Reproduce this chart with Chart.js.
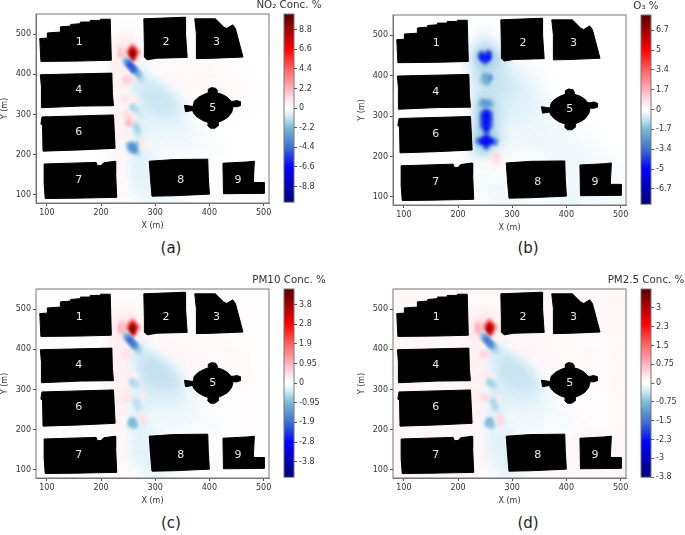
<!DOCTYPE html>
<html>
<head>
<meta charset="utf-8">
<title>Concentration change maps</title>
<script src="https://cdn.jsdelivr.net/npm/chart.js@4"></script>
<style>
  html, body { margin: 0; padding: 0; background: #fff; }
  #page { position: relative; width: 685px; height: 535px; overflow: hidden; }
  #page canvas { position: absolute; filter: blur(0.45px); }
  .caption { position: absolute; font: 15px "DejaVu Sans", sans-serif; color: #222; width: 60px; text-align: center; }
</style>
</head>
<body>
<div id="page"></div>
<script>
// axis ticks
const xTicks = [100, 200, 300, 400, 500];
const yTicks = [100, 200, 300, 400, 500];

// buildings, in metres
const buildingNames = ["1", "2", "3", "4", "5", "6", "7", "8", "9"];
const labelX = [160, 320, 413, 159, 406, 159, 159, 347, 453];
const labelY = [480, 480, 480, 360, 317, 256, 137, 137, 137];
const building1 = [[87,489],[101,490],[101,503],[125,505],[125,518],[144,520],[144,524],[162,526],[162,530],[180,530],[180,534],[199,534],[199,537],[217,537],[219,435],[159,433],[89,432]];
const building2 = [[279,538],[355,542],[356,501],[359,442],[303,440],[285,436],[281,442],[280,476]];
const building3 = [[373,538],[411,538],[426,518],[432,514],[443,523],[448,514],[462,443],[408,440],[377,439],[376,501]];
const building4 = [[88,399],[220,403],[221,352],[223,322],[162,321],[91,317],[90,369]];
const building5 = [[398,354],[398,363],[404,367],[412,365],[415,358],[414,354],[424,350],[433,343],[440,333],[445,333],[450,335],[457,332],[457,322],[450,319],[444,320],[441,305],[434,293],[424,285],[416,281],[416,272],[410,266],[402,266],[397,272],[398,280],[388,285],[378,293],[371,303],[369,310],[356,307],[354,323],[370,320],[372,333],[380,343],[390,350]];
const building6 = [[91,294],[223,299],[226,216],[162,212],[93,209],[92,274],[89,276]];
const building7 = [[95,177],[191,181],[193,173],[200,173],[205,180],[226,184],[227,154],[229,94],[152,92],[97,91],[95,129]];
const building8 = [[289,184],[334,188],[397,189],[398,145],[400,102],[334,98],[294,97],[291,145]];
const building9 = [[425,179],[469,182],[483,184],[481,131],[501,131],[501,104],[426,103]];
const buildings = [building1, building2, building3, building4, building5, building6, building7, building8, building9];

// coarse grid
const gridX = [230, 250, 270, 290, 310, 330, 350, 370, 390, 410, 430, 450, 470, 490];
const gridY = [520, 495, 470, 445, 420, 395, 370, 345, 320, 295, 270, 245, 220, 195, 170, 145, 120, 95];

const no2Grid = [
  [0, .1, 0, 0, 0, 0, 0, 0, 0, 0, 0, 0, 0, 0],
  [.2, .3, .1, 0, 0, 0, 0, 0, 0, 0, 0, 0, 0, 0],
  [.5, .8, .2, 0, 0, 0, 0, 0, 0, 0, 0, 0, 0, 0],
  [.6, .8, .4, .1, 0, 0, .1, .1, 0, 0, 0, 0, 0, 0],
  [.5, .4, -.3, .15, .2, .25, .25, .2, .2, .15, .1, .05, 0, 0],
  [.5, .3, -.8, -.2, .15, .3, .3, .3, .25, .2, .15, .1, .05, 0],
  [.5, .1, -.7, -.9, -.5, .05, .2, .3, .25, .25, .2, .15, .1, 0],
  [.5, .2, -.5, -1, -1, -.6, .05, .2, .2, .2, .2, .2, .1, 0],
  [.5, .2, -.5, -.8, -1, -.9, -.3, .1, .1, .1, .1, .15, .15, 0],
  [.5, .3, -.5, -.6, -.7, -.7, -.4, -.1, .05, .05, .05, .05, 0, 0],
  [.5, .3, -.7, -.5, -.5, -.5, -.4, -.15, -.05, 0, 0, 0, 0, 0],
  [.4, .2, -.5, -.3, -.3, -.3, -.3, -.2, -.1, -.05, 0, 0, 0, 0],
  [.3, -.3, -.4, -.25, -.2, -.2, -.2, -.2, -.15, -.1, -.05, 0, 0, 0],
  [.3, -.1, -.6, -.4, -.1, -.1, -.1, -.1, -.05, 0, 0, 0, 0, 0],
  [.3, 0, -.6, -.4, 0, 0, 0, 0, 0, 0, 0, 0, 0, 0],
  [.3, 0, -.6, -.5, 0, 0, 0, 0, 0, 0, 0, 0, 0, 0],
  [.3, .05, -.4, -.5, -.2, 0, 0, 0, 0, 0, 0, 0, 0, 0],
  [.2, .05, -.2, -.4, -.3, -.2, -.1, -.05, 0, 0, 0, 0, 0, 0],
];
const o3Grid = [
  [0, -.1, 0, 0, 0, 0, 0, 0, 0, 0, 0, 0, 0, 0],
  [-.1, -.3, -.1, 0, 0, 0, 0, 0, 0, 0, 0, 0, 0, 0],
  [-.3, -.8, -.3, -.1, 0, 0, 0, 0, 0, 0, 0, 0, 0, 0],
  [-.5, -1.5, -.8, -.1, 0, 0, 0, 0, 0, 0, 0, 0, 0, 0],
  [-.5, -1, -.8, -.4, -.2, -.1, -.05, 0, 0, 0, 0, 0, 0, 0],
  [-.4, -.9, -.8, -.6, -.4, -.2, -.1, 0, 0, 0, 0, 0, 0, 0],
  [-.3, -.7, -.8, -.7, -.5, -.35, -.15, -.05, 0, 0, 0, 0, 0, 0],
  [-.3, -.9, -.7, -.6, -.5, -.4, -.2, -.1, 0, 0, 0, 0, 0, 0],
  [-.3, -1.2, -.7, -.5, -.5, -.4, -.3, -.1, 0, 0, 0, 0, 0, 0],
  [-.3, -1.3, -.7, -.4, -.4, -.35, -.25, -.15, -.1, -.05, -.05, 0, 0, 0],
  [-.3, -1.3, -.6, -.3, -.25, -.3, -.3, -.2, -.15, -.1, -.05, 0, 0, 0],
  [-.4, -1.5, -.7, -.3, -.2, -.2, -.25, -.25, -.2, -.15, -.1, -.05, 0, 0],
  [-.4, -1, -.3, -.2, -.15, -.1, -.15, -.2, -.25, -.2, -.15, -.1, -.05, 0],
  [-.2, -.2, .2, -.1, -.1, -.1, -.1, -.15, -.2, -.25, -.2, -.15, -.1, -.05],
  [-.1, -.1, .1, -.1, -.1, -.1, -.1, -.1, -.15, -.2, -.2, -.2, -.15, -.1],
  [-.1, -.15, -.1, -.1, -.1, -.1, -.1, -.1, -.1, -.2, -.2, -.2, -.2, -.1],
  [-.1, -.15, -.2, -.15, -.1, -.1, -.1, -.1, -.1, -.2, -.2, -.2, -.2, -.15],
  [-.05, -.1, -.2, -.2, -.15, -.1, -.1, -.15, -.2, -.3, -.2, -.2, -.2, -.15],
];
const pm10Grid = [
  [0, .05, 0, 0, 0, 0, 0, 0, 0, 0, 0, 0, 0, 0],
  [.1, .15, .05, 0, 0, 0, 0, 0, 0, 0, 0, 0, 0, 0],
  [.25, .4, .1, .03, 0, 0, 0, 0, 0, 0, 0, 0, 0, 0],
  [.3, .4, .2, .08, .03, .03, .05, .05, .03, 0, 0, 0, 0, 0],
  [.25, .2, -.15, .08, .1, .12, .12, .1, .1, .08, .05, .03, 0, 0],
  [.25, .15, -.35, -.12, .06, .12, .14, .14, .12, .1, .08, .05, .03, 0],
  [.25, .05, -.3, -.45, -.25, 0, .1, .14, .12, .12, .1, .08, .05, 0],
  [.25, .1, -.25, -.5, -.5, -.3, .03, .1, .1, .1, .1, .1, .05, 0],
  [.25, .1, -.25, -.4, -.45, -.45, -.15, .05, .05, .05, .05, .07, .07, 0],
  [.25, .15, -.25, -.3, -.35, -.35, -.2, -.05, .02, .02, .02, .02, 0, 0],
  [.25, .15, -.3, -.25, -.25, -.25, -.2, -.08, -.03, 0, 0, 0, 0, 0],
  [.2, .1, -.25, -.15, -.15, -.15, -.15, -.1, -.05, -.02, 0, 0, 0, 0],
  [.15, -.1, -.2, -.12, -.1, -.1, -.1, -.1, -.08, -.05, -.02, 0, 0, 0],
  [.15, .03, -.25, -.2, -.05, -.05, -.05, -.05, -.02, 0, 0, 0, 0, 0],
  [.15, .03, -.25, -.2, 0, 0, 0, 0, 0, 0, 0, 0, 0, 0],
  [.15, .03, -.25, -.25, 0, 0, 0, 0, 0, 0, 0, 0, 0, 0],
  [.15, .05, -.15, -.25, -.1, 0, 0, 0, 0, 0, 0, 0, 0, 0],
  [.1, .05, -.05, -.15, -.15, -.1, -.05, 0, 0, 0, 0, 0, 0, 0],
];
const pm25Grid = [
  [.05, .08, .05, 0, 0, 0, 0, 0, 0, 0, 0, 0, 0, 0],
  [.1, .15, .08, 0, 0, 0, 0, 0, 0, 0, 0, 0, 0, 0],
  [.2, .3, .12, .05, 0, 0, 0, 0, 0, 0, 0, 0, 0, 0],
  [.25, .3, .18, .1, .05, .05, .05, .05, .05, 0, 0, 0, 0, 0],
  [.2, .15, -.1, .08, .1, .1, .1, .08, .08, .06, .05, .05, .05, 0],
  [.2, .12, -.28, -.1, .06, .1, .1, .1, .08, .06, .05, .05, .05, 0],
  [.2, .05, -.22, -.36, -.2, 0, .08, .1, .08, .08, .06, .05, .05, 0],
  [.2, .08, -.2, -.38, -.38, -.22, .02, .08, .06, .06, .06, .06, .05, 0],
  [.2, .08, -.2, -.3, -.36, -.34, -.12, .04, .05, .05, .05, .05, .05, 0],
  [.2, .12, -.2, -.24, -.28, -.28, -.16, -.04, .03, .03, .03, .03, .03, 0],
  [.2, .12, -.24, -.2, -.2, -.2, -.16, -.06, -.02, .02, .02, .02, .02, 0],
  [.16, .08, -.2, -.12, -.12, -.12, -.12, -.08, -.04, 0, .02, .02, .02, 0],
  [.14, -.08, -.16, -.1, -.08, -.08, -.08, -.08, -.06, -.03, 0, .02, .02, 0],
  [.12, .03, -.2, -.16, -.04, -.04, -.04, -.04, -.02, 0, 0, 0, 0, 0],
  [.12, .03, -.22, -.16, 0, 0, 0, 0, 0, 0, 0, 0, 0, 0],
  [.12, .03, -.22, -.2, 0, 0, 0, 0, 0, 0, 0, 0, 0, 0],
  [.12, .04, -.12, -.22, -.08, 0, 0, 0, 0, 0, 0, 0, 0, 0],
  [.08, .04, -.04, -.14, -.12, -.06, 0, 0, 0, 0, 0, 0, 0, 0],
];

// small hot spots near the street canyon: x, y, value
const no2Spots = [
  [238,458,2],[238,450,1.8],[244,460,1],[258,466,4],[252,455,3.5],[265,455,4.5],[259,442,6],[258,458,8],[258,450,9.5],
  [275,388,-1.2],[270,398,-1.8],[266,404,-2.4],[246,434,-2],[262,410,-3.5],[250,428,-3.8],[259,414,-4.6],[254,422,-5.2],
  [258,388,.8],[245,380,1],[246,388,1.6],[252,388,1.3],[242,340,.7],[247,338,1],[262,336,.9],[255,334,.5],
  [272,300,-.9],[265,312,-1.2],[258,318,-1.5],[244,300,1],[256,296,.8],[250,298,1.2],[256,279,1.2],[250,280,2],
  [270,245,-.8],[268,258,-1.3],[265,270,-1.5],[268,205,-1.2],[252,225,-2],[266,225,-1.8],[255,215,-2.8],[258,222,-3.5],[262,212,-3.6],
  [277,232,.9],[279,220,.7],[248,245,.6],[242,265,.5],
];
const o3Spots = [
  [243,452,-3.5],[256,454,-4],[250,438,-4],[245,445,-4.8],[255,445,-4.8],
  [246,388,-1.4],[253,384,-1.8],[258,395,-2.6],[250,398,-2],
  [260,330,-1.6],[243,332,-1.6],[248,332,-2.4],[254,331,-2.4],
  [253,258,-3],[258,305,-3.5],[246,305,-3.5],[258,278,-3.5],[246,278,-3.5],[258,292,-3.8],[246,292,-3.8],[252,308,-4.5],[252,270,-4.8],[252,298,-5],[252,284,-5],
  [268,236,-2.8],[238,238,-2.8],[252,226,-3.6],[245,238,-4.8],[260,238,-4.8],[252,244,-4.8],[252,236,-5.2],
  [270,180,.4],[264,198,.7],[276,198,.7],[270,190,.7],[270,202,.9],
];
const pm10Spots = [
  [238,458,1],[238,448,.9],[244,460,.6],[258,466,1.8],[252,455,1.6],[265,455,2],[259,442,2.6],[258,458,3.4],[258,450,4.2],
  [275,388,-.4],[270,398,-.6],[266,404,-.8],[246,434,-.8],[262,410,-1.3],[250,428,-1.5],[259,414,-1.7],[254,422,-2],
  [246,388,.5],[252,388,.4],[247,338,.3],[262,336,.25],
  [272,300,-.3],[265,312,-.5],[258,318,-.6],[250,280,.4],[244,282,.4],
  [270,245,-.3],[268,258,-.5],[265,270,-.5],[255,215,-.9],[258,222,-1],[262,212,-.9],
  [277,232,.4],[279,220,.5],[277,285,.3],
];
const pm25Spots = [
  [238,458,.9],[238,448,.8],[244,460,.5],[258,466,1.4],[252,455,1.3],[265,455,1.6],[259,442,2],[258,458,2.7],[258,450,3.2],
  [275,388,-.3],[270,398,-.45],[266,404,-.6],[246,434,-.6],[262,410,-.95],[250,428,-1.1],[259,414,-1.3],[254,422,-1.5],
  [246,388,.5],[252,388,.4],[247,338,.3],[262,336,.3],
  [272,300,-.3],[265,312,-.5],[258,318,-.6],[250,280,.45],[244,282,.35],[272,275,.3],
  [270,245,-.3],[268,258,-.5],[265,270,-.5],[255,215,-.7],[258,222,-.8],[262,212,-.7],
  [277,232,.4],[279,220,.45],
];

// colour bars
const no2BarVals = [8.8, 6.6, 4.4, 2.2, 0, -2.2, -4.4, -6.6, -8.8];
const no2BarLabels = ["8.8", "6.6", "4.4", "2.2", "0", "-2.2", "-4.4", "-6.6", "-8.8"];
const o3BarVals = [6.7, 5.025, 3.35, 1.675, 0, -1.675, -3.35, -5.025, -6.7];
const o3BarLabels = ["6.7", "5", "3.4", "1.7", "0", "-1.7", "-3.4", "-5", "-6.7"];
const pm10BarVals = [3.8, 2.85, 1.9, 0.95, 0, -0.95, -1.9, -2.85, -3.8];
const pm10BarLabels = ["3.8", "2.8", "1.9", "0.95", "0", "-0.95", "-1.9", "-2.8", "-3.8"];
const pm25BarVals = [3, 2.25, 1.5, 0.75, 0, -0.75, -1.5, -2.25, -3, -3.75];
const pm25BarLabels = ["3", "2.3", "1.5", "0.75", "0", "-0.75", "-1.5", "-2.3", "-3", "-3.8"];

const panels = [
  { name: "(a)", title: "NO₂ Conc. %", grid: no2Grid, spots: no2Spots, vmax: 10.55, barVals: no2BarVals, barLabels: no2BarLabels, left: 36, top: 14, h: 189, capMid: 248, titleMid: 5 },
  { name: "(b)", title: "O₃ %", grid: o3Grid, spots: o3Spots, vmax: 8, barVals: o3BarVals, barLabels: o3BarLabels, left: 393, top: 15, h: 190, capMid: 248, titleMid: 6 },
  { name: "(c)", title: "PM10 Conc. %", grid: pm10Grid, spots: pm10Spots, vmax: 4.55, barVals: pm10BarVals, barLabels: pm10BarLabels, left: 36, top: 289, h: 189, capMid: 523, titleMid: 280, bg: "#fffdfd" },
  { name: "(d)", title: "PM2.5 Conc. %", grid: pm25Grid, spots: pm25Spots, vmax: 3.75, barVals: pm25BarVals, barLabels: pm25BarLabels, left: 393, top: 289, h: 189, capMid: 523, titleMid: 280, bg: "#fff6f8" },
];

const stops = [
  [-1, [0, 0, 120]], [-0.63, [0, 0, 255]], [-0.42, [58, 112, 208]], [-0.21, [122, 184, 216]], [-0.08, [214, 236, 246]],
  [0, [255, 255, 255]], [0.08, [255, 232, 236]], [0.21, [255, 176, 184]], [0.42, [255, 96, 96]], [0.63, [255, 0, 0]], [1, [90, 0, 0]],
];

function cmap(t) {
  t = Math.max(-1, Math.min(1, t));
  for (let i = 1; i < stops.length; i++) {
    if (t <= stops[i][0]) {
      let a = stops[i - 1], b = stops[i];
      let f = (t - a[0]) / (b[0] - a[0]);
      return "rgb(" + a[1].map((c, j) => Math.round(c + (b[1][j] - c) * f)).join(",") + ")";
    }
  }
  return "rgb(90,0,0)";
}

// soft round marker so neighbouring cells melt together
let sprites = {};
function sprite(color, w, h) {
  let key = color + w + "x" + h;
  if (sprites[key]) return sprites[key];
  let c = document.createElement("canvas");
  c.width = w;
  c.height = h;
  let g = c.getContext("2d");
  let m = color.replace("rgb(", "").replace(")", "");
  g.translate(w / 2, h / 2);
  g.scale(w / 2, h / 2);
  let grad = g.createRadialGradient(0, 0, 0, 0, 0, 1);
  grad.addColorStop(0, "rgba(" + m + ",1)");
  grad.addColorStop(0.35, "rgba(" + m + ",0.75)");
  grad.addColorStop(0.65, "rgba(" + m + ",0.3)");
  grad.addColorStop(1, "rgba(" + m + ",0)");
  g.fillStyle = grad;
  g.fillRect(-1, -1, 2, 2);
  sprites[key] = c;
  return c;
}

const framePlugin = {
  id: "frame",
  beforeDatasetsDraw(chart, args, opts) {
    if (!opts.bg) return;
    let a = chart.chartArea;
    chart.ctx.fillStyle = opts.bg;
    chart.ctx.fillRect(a.left, a.top, a.width, a.height);
  },
  afterDatasetsDraw(chart) {
    let a = chart.chartArea, ctx = chart.ctx;
    ctx.save();
    ctx.font = '11px "DejaVu Sans"';
    ctx.fillStyle = "#e8e8e8";
    ctx.textAlign = "center";
    ctx.textBaseline = "middle";
    buildingNames.forEach((n, i) => {
      ctx.fillText(n, chart.scales.x.getPixelForValue(labelX[i]), chart.scales.y.getPixelForValue(labelY[i]));
    });
    ctx.strokeStyle = "#777";
    ctx.lineWidth = 1;
    ctx.strokeRect(a.left, a.top, a.width, a.height);
    ctx.restore();
  },
};

const page = document.getElementById("page");

function addCanvas(left, top, w, h) {
  let c = document.createElement("canvas");
  c.style.left = left + "px";
  c.style.top = top + "px";
  c.style.width = w + "px";
  c.style.height = h + "px";
  c.width = w;
  c.height = h;
  page.appendChild(c);
  return c;
}

function drawMap(p) {
  let plotW = 233;
  let canvas = addCanvas(p.left - 36, p.top - 10, plotW + 36 + 12, p.h + 10 + 28);
  let cells = [];
  p.grid.forEach((row, r) => {
    row.forEach((v, c) => {
      if (v != 0) cells.push({ x: gridX[c], y: gridY[r], v: v });
    });
  });
  cells.sort((a, b) => Math.abs(a.v) - Math.abs(b.v));
  let spots = p.spots.map((s) => ({ x: s[0], y: s[1], v: s[2] }));
  let datasets = [
    {
      data: cells, order: 3, showLine: false,
      pointStyle: (ctx) => sprite(cmap(ctx.raw.v / p.vmax), 34, 28),
    },
    {
      data: spots, order: 2, showLine: false,
      pointStyle: (ctx) => sprite(cmap(ctx.raw.v / p.vmax), 12, 13),
    },
  ];
  buildings.forEach((b) => {
    datasets.push({
      data: b.map((q) => ({ x: q[0], y: q[1] })).concat([{ x: b[0][0], y: b[0][1] }]),
      order: 1, showLine: true, fill: "shape", tension: 0, pointRadius: 0,
      borderColor: "#000", backgroundColor: "#000", borderWidth: 1,
    });
  });
  new Chart(canvas, {
    type: "scatter",
    data: { datasets: datasets },
    plugins: [framePlugin],
    options: {
      responsive: false,
      animation: false,
      layout: { padding: { top: 10, right: 12, left: 0, bottom: 0 } },
      plugins: { legend: { display: false }, tooltip: { enabled: false }, frame: { bg: p.bg } },
      scales: {
        x: {
          type: "linear", min: 80, max: 510,
          afterBuildTicks: (s) => { s.ticks = xTicks.map((v) => ({ value: v })); },
          afterFit: (s) => { s.height = 28; },
          grid: { drawOnChartArea: false, tickLength: 3, color: "#555" },
          border: { color: "#777" },
          ticks: { maxRotation: 0, padding: 2, font: { family: "DejaVu Sans", size: 8 }, color: "#333" },
          title: { display: true, text: "X (m)", padding: { top: 2, bottom: 0 }, font: { family: "DejaVu Sans", size: 8 }, color: "#333" },
        },
        y: {
          type: "linear", min: 80, max: 550,
          afterBuildTicks: (s) => { s.ticks = yTicks.map((v) => ({ value: v })); },
          afterFit: (s) => { s.width = 36; },
          grid: { drawOnChartArea: false, tickLength: 3, color: "#555" },
          border: { color: "#777" },
          ticks: { padding: 2, font: { family: "DejaVu Sans", size: 8 }, color: "#333" },
          title: { display: true, text: "Y (m)", padding: { top: 0, bottom: 1 }, font: { family: "DejaVu Sans", size: 8 }, color: "#333" },
        },
      },
    },
  });
}

function drawBar(p) {
  let center = p.left + 253;
  let canvas = addCanvas(center - 42, p.top - 14, 84, p.h + 14 + 6);
  new Chart(canvas, {
    type: "bar",
    data: {
      labels: [""],
      datasets: [{
        data: [[-p.vmax, p.vmax]],
        barPercentage: 1, categoryPercentage: 1, borderWidth: 0,
        backgroundColor: (ctx) => {
          let a = ctx.chart.chartArea;
          if (!a) return "#fff";
          let grad = ctx.chart.ctx.createLinearGradient(0, a.bottom, 0, a.top);
          stops.forEach((s) => grad.addColorStop((s[0] + 1) / 2, "rgb(" + s[1].join(",") + ")"));
          return grad;
        },
      }],
    },
    plugins: [{
      id: "barFrame",
      afterDatasetsDraw(chart) {
        let a = chart.chartArea, ctx = chart.ctx;
        ctx.save();
        ctx.strokeStyle = "#777";
        ctx.lineWidth = 1;
        ctx.strokeRect(a.left, a.top, a.width, a.height);
        // bar title, wider than the plot area so not the title plugin
        ctx.font = '10.3px "DejaVu Sans"';
        ctx.fillStyle = "#333";
        ctx.textAlign = "center";
        ctx.textBaseline = "middle";
        ctx.fillText(p.title, chart.width / 2, p.titleMid - (p.top - 14));
        ctx.restore();
      },
    }],
    options: {
      responsive: false,
      animation: false,
      layout: { padding: { top: 14, left: 37, right: 0, bottom: 6 } },
      plugins: { legend: { display: false }, tooltip: { enabled: false } },
      scales: {
        x: { display: false },
        y: {
          position: "right", min: -p.vmax, max: p.vmax,
          afterBuildTicks: (s) => { s.ticks = p.barVals.map((v) => ({ value: v })); },
          afterFit: (s) => { s.width = 37; },
          grid: { drawOnChartArea: false, tickLength: 3, color: "#555" },
          border: { display: false },
          ticks: {
            padding: 2, font: { family: "DejaVu Sans", size: 8 }, color: "#333",
            callback: (v, i) => p.barLabels[i],
          },
        },
      },
    },
  });
}

panels.forEach((p) => {
  drawMap(p);
  drawBar(p);
  let cap = document.createElement("div");
  cap.className = "caption";
  cap.textContent = p.name;
  cap.style.left = p.left + 135 - 30 + "px";
  cap.style.top = p.capMid - 9 + "px";
  page.appendChild(cap);
});
</script>
</body>
</html>
